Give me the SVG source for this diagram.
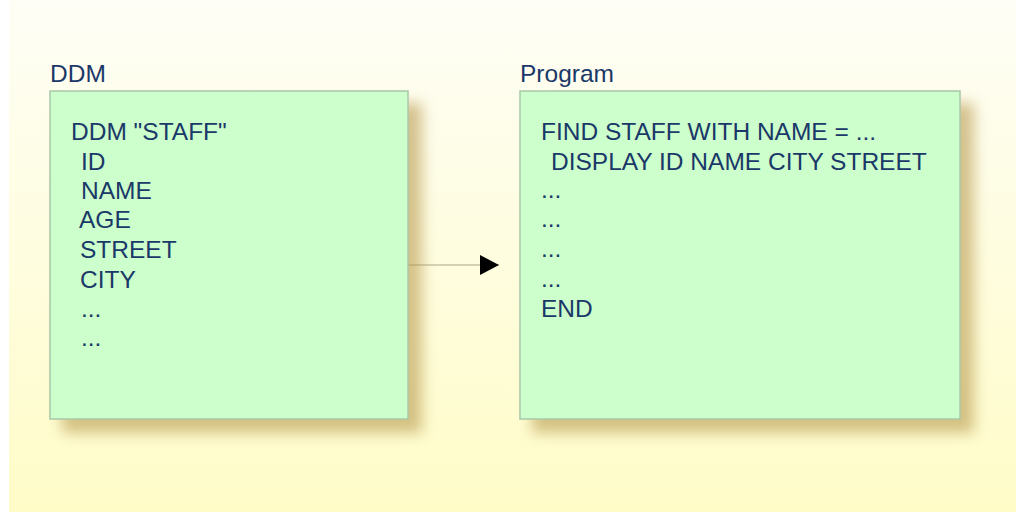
<svg xmlns="http://www.w3.org/2000/svg" width="1016" height="513" viewBox="0 0 1016 513">
<defs>
<linearGradient id="bg" x1="0" y1="0" x2="0" y2="1">
<stop offset="0" stop-color="#fefef6"/>
<stop offset="1" stop-color="#fffcc8"/>
</linearGradient>
<filter id="sh" x="-20%" y="-20%" width="150%" height="150%">
<feGaussianBlur stdDeviation="7"/>
</filter>
<marker id="arr" markerWidth="20" markerHeight="20" refX="19" refY="10" orient="auto" markerUnits="userSpaceOnUse">
<polygon points="0,0 19,10 0,20" fill="#000"/>
</marker>
</defs>
<style>
.box{fill:#ccffcc;stroke:#a8c8a8;stroke-width:1.5}
.shadow{fill:#b89a50;opacity:0.6;filter:url(#sh)}
.t{font-family:"Liberation Sans",Arial,sans-serif;font-size:24.5px;fill:#1a3868}
</style>
<rect x="0" y="0" width="1016" height="513" fill="#ffffff"/>
<rect x="9" y="0" width="1007" height="512" fill="url(#bg)"/>
<g id="connectors">
<line x1="408" y1="265" x2="499" y2="265" stroke="#a8a488" stroke-width="1" marker-end="url(#arr)"/>
</g>
<g id="ddm">
<rect class="shadow" x="62" y="103" width="360" height="330"/>
<rect class="box" x="50" y="91" width="358" height="328"/>
<text class="t" x="50" y="82">DDM</text>
<text class="t" x="71" y="140">DDM "STAFF"</text>
<text class="t" x="81" y="170">ID</text>
<text class="t" x="81" y="199">NAME</text>
<text class="t" x="79" y="228">AGE</text>
<text class="t" x="80" y="258">STREET</text>
<text class="t" x="80" y="288">CITY</text>
<text class="t" x="81" y="317">...</text>
<text class="t" x="81" y="346">...</text>
</g>
<g id="program">
<rect class="shadow" x="532" y="103" width="442" height="330"/>
<rect class="box" x="520" y="91" width="440" height="328"/>
<text class="t" x="520" y="82">Program</text>
<text class="t" x="541" y="140">FIND STAFF WITH NAME = ...</text>
<text class="t" x="551" y="170">DISPLAY ID NAME CITY STREET</text>
<text class="t" x="541" y="198">...</text>
<text class="t" x="541" y="227">...</text>
<text class="t" x="541" y="257">...</text>
<text class="t" x="541" y="287">...</text>
<text class="t" x="541" y="317">END</text>
</g>
</svg>
